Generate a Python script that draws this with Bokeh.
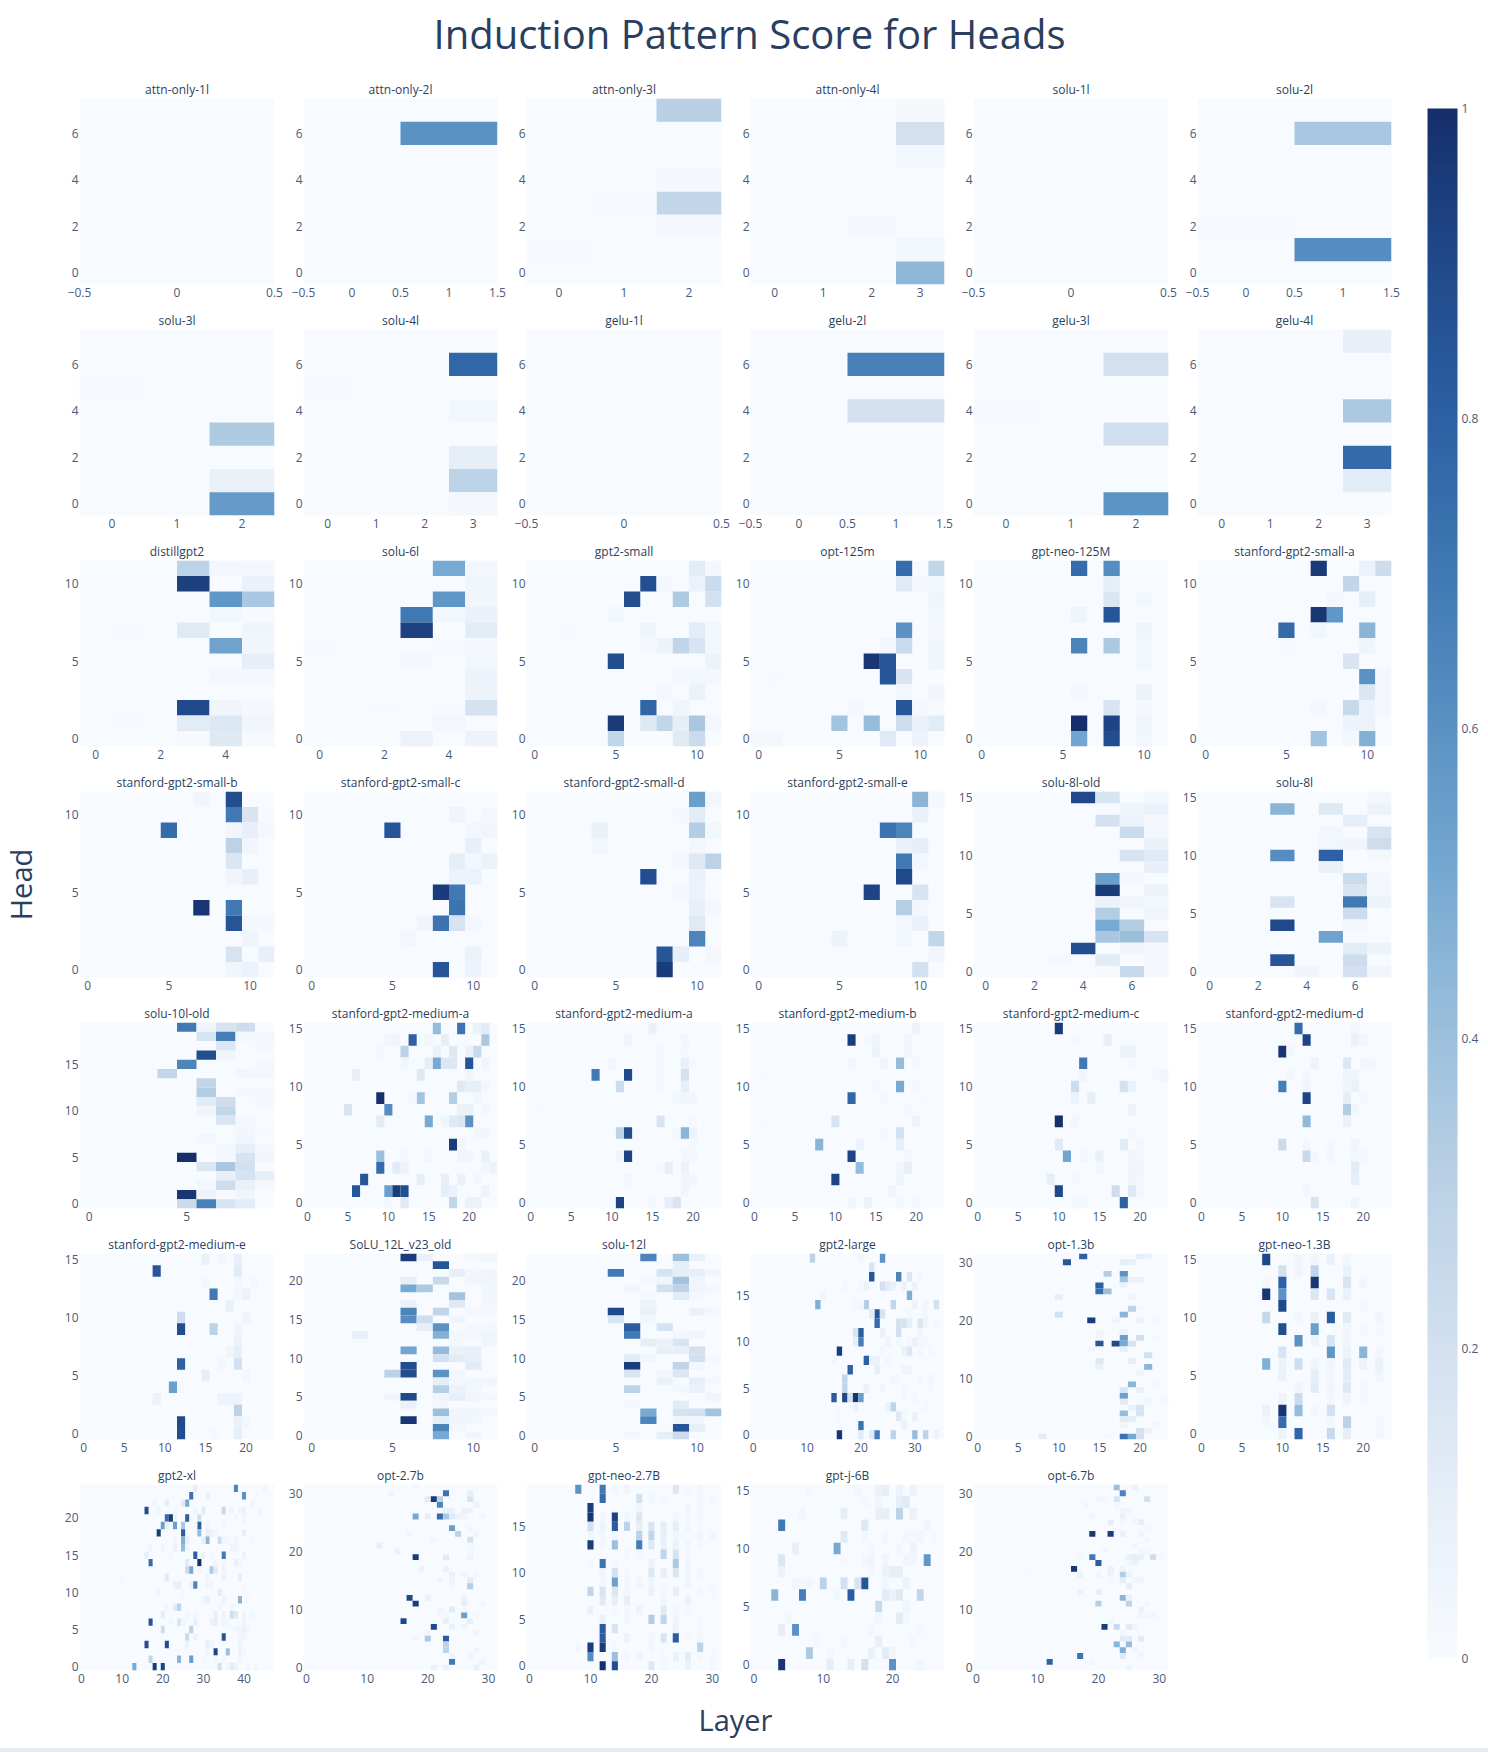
from bokeh.plotting import figure
from bokeh.layouts import column, row
from bokeh.models import (Range1d, FixedTicker, LinearColorMapper, ColorBar, Label, Spacer,
                          ColumnDataSource)
from bokeh.embed import file_html
from bokeh.resources import INLINE
import math

# colour scale stops
stops = [(0, "#f7fbff"), (.1, "#e6eef7"), (.2, "#d2e0f0"), (.3, "#bcd2e6"), (.4, "#9cc0dc"), (.5, "#78aad2"),
         (.6, "#5b92c3"), (.7, "#4079b4"), (.8, "#2d60a4"), (.9, "#204a8c"), (1, "#162f6b")]

attn_only_1l = []
attn_only_2l = [(1,6,.6)]
attn_only_3l = [(2,7,.31),(2,3,.27),(2,4,.02),(2,2,.02),(0,1,.01),(1,3,.01)]
attn_only_4l = [(3,6,.2),(3,0,.44),(3,1,.03),(3,5,.03),(3,7,.02),(2,2,.02)]
solu_1l = []
solu_2l = [(1,6,.36),(1,1,.62),(0,2,.01)]
solu_3l = [(2,3,.34),(2,1,.08),(2,0,.56),(0,5,.01)]
solu_4l = [(3,6,.77),(3,4,.03),(3,2,.1),(3,1,.3),(0,5,.01),(3,0,.02)]
gelu_1l = []
gelu_2l = [(1,6,.67),(1,4,.2)]
gelu_3l = [(2,6,.2),(2,3,.21),(2,0,.59),(0,4,.01)]
gelu_4l = [(3,7,.09),(3,4,.35),(3,2,.76),(3,1,.12)]
distillgpt2 = [(3,11,.3),(4,11,.03),(5,11,.02),(3,10,.94),(5,10,.08),(4,9,.58),(5,9,.36),(4,8,.03),(5,8,.01),(3,7,.13),(5,7,.05),(1,7,.01),(4,6,.53),(5,6,.04),(5,5,.1),(4,4,.02),(5,4,.02),(3,2,.9),(4,2,.05),(5,2,.02),(3,1,.12),(4,1,.15),(5,1,.04),(1,1,.01),(4,0,.14),(3,0,.01),(5,0,.01)]
solu_6l = [(4,11,.5),(5,11,.03),(5,10,.04),(4,9,.58),(5,9,.04),(3,8,.7),(4,8,.03),(5,8,.08),(3,7,.93),(5,7,.12),(0,6,.01),(4,6,.01),(5,6,.02),(3,5,.02),(5,5,.03),(5,4,.06),(5,3,.06),(5,2,.19),(4,2,.01),(2,2,.01),(4,1,.03),(3,0,.07),(5,0,.06)]
gpt2_small = [(10,11,.12),(11,11,.02),(7,10,.87),(8,10,.03),(10,10,.07),(11,10,.24),(6,9,.88),(9,9,.34),(11,9,.2),(5,8,.03),(7,7,.05),(10,7,.12),(11,7,.03),(8,6,.06),(9,6,.28),(10,6,.17),(7,6,.02),(11,6,.03),(5,5,.88),(11,5,.06),(9,4,.03),(10,4,.03),(11,4,.02),(10,3,.07),(8,3,.02),(7,2,.78),(9,2,.04),(5,1,.96),(7,1,.14),(8,1,.27),(9,1,.1),(10,1,.36),(11,1,.03),(5,0,.27),(9,0,.13),(10,0,.24),(2,7,.01)]
opt_125m = [(9,11,.75),(11,11,.27),(9,10,.13),(10,10,.02),(11,10,.03),(11,9,.05),(11,8,.03),(9,7,.6),(11,7,.02),(9,6,.24),(8,6,.03),(11,6,.04),(7,5,.97),(8,5,.85),(11,5,.04),(8,4,.85),(9,4,.17),(1,4,.01),(9,3,.03),(11,3,.04),(9,2,.85),(6,2,.02),(10,2,.02),(11,2,.01),(5,1,.38),(7,1,.42),(9,1,.22),(10,1,.08),(11,1,.12),(8,0,.13),(10,0,.06),(0,0,.02),(1,0,.02)]
gpt_neo_125m = [(6,11,.75),(8,11,.62),(8,10,.1),(8,9,.16),(10,9,.03),(6,8,.05),(8,8,.85),(10,7,.05),(6,6,.66),(8,6,.35),(10,6,.03),(10,5,.03),(6,3,.03),(10,3,.06),(8,2,.17),(10,2,.02),(6,1,1.0),(8,1,.92),(10,1,.04),(6,0,.52),(8,0,.88),(10,0,.03)]
small_a = [(7,11,.96),(10,11,.07),(11,11,.23),(9,10,.27),(10,9,.1),(8,9,.02),(7,8,.97),(8,8,.58),(5,7,.76),(10,7,.45),(7,7,.03),(10,6,.05),(5,6,.01),(9,5,.17),(10,4,.6),(11,4,.02),(10,3,.16),(11,3,.02),(7,2,.03),(9,2,.25),(10,2,.07),(11,2,.03),(9,1,.06),(10,1,.07),(7,0,.38),(9,0,.03),(10,0,.47)]
small_b = [(7,11,.04),(9,11,.88),(9,10,.7),(10,10,.17),(11,10,.01),(5,9,.75),(9,9,.04),(10,9,.09),(11,9,.02),(9,8,.3),(10,8,.04),(9,7,.16),(9,6,.05),(10,6,.09),(7,4,.97),(9,4,.7),(9,3,.85),(10,3,.03),(11,3,.02),(10,2,.05),(9,1,.18),(11,1,.09),(9,0,.04),(10,0,.07)]
small_c = [(9,10,.05),(11,10,.02),(5,9,.85),(10,9,.03),(11,9,.04),(10,8,.09),(9,7,.1),(10,7,.03),(11,7,.07),(9,6,.06),(10,6,.07),(8,5,.95),(9,5,.7),(9,4,.72),(7,3,.05),(8,3,.72),(9,3,.18),(10,3,.03),(6,2,.03),(10,1,.07),(8,0,.85),(10,0,.06)]
small_d = [(10,11,.55),(11,11,.03),(10,10,.12),(9,10,.02),(4,9,.08),(10,9,.33),(11,9,.03),(4,8,.03),(10,8,.03),(9,7,.02),(10,7,.14),(11,7,.3),(7,6,.88),(10,6,.08),(9,5,.02),(10,5,.07),(10,4,.09),(11,4,.02),(10,3,.13),(10,2,.65),(8,1,.85),(9,1,.1),(11,1,.02),(8,0,.95)]
small_e = [(10,11,.45),(11,11,.02),(10,10,.08),(8,9,.72),(9,9,.65),(9,8,.08),(10,8,.1),(9,7,.7),(10,7,.03),(9,6,.9),(7,5,.92),(10,5,.17),(9,4,.32),(10,4,.03),(9,3,.03),(10,3,.08),(5,2,.06),(9,2,.03),(11,2,.27),(11,1,.04),(10,0,.2)]
solu_8l_old = [(4,15,.9),(5,15,.17),(7,15,.03),(6,14,.05),(7,14,.08),(5,13,.2),(6,13,.07),(7,13,.02),(6,12,.24),(7,12,.03),(7,11,.08),(6,10,.18),(7,10,.13),(7,9,.09),(5,8,.55),(6,8,.02),(5,7,.95),(7,7,.07),(5,6,.07),(6,6,.04),(7,6,.03),(5,5,.33),(7,5,.05),(5,4,.5),(6,4,.33),(5,3,.36),(6,3,.4),(7,3,.17),(4,2,.88),(6,2,.05),(7,2,.02),(3,1,.02),(5,1,.12),(7,1,.02),(6,0,.25),(7,0,.02),(5,0,.01)]
solu_8l = [(7,15,.02),(3,14,.45),(5,14,.14),(7,14,.06),(6,13,.1),(5,12,.03),(7,12,.17),(5,11,.03),(6,11,.05),(7,11,.22),(3,10,.62),(5,10,.8),(7,10,.02),(5,9,.08),(6,8,.24),(7,8,.02),(6,7,.17),(7,7,.02),(3,6,.17),(6,6,.7),(7,6,.06),(6,5,.23),(3,4,.9),(6,4,.03),(5,3,.53),(6,2,.12),(7,2,.06),(3,1,.85),(6,1,.22),(4,0,.05),(6,0,.2),(7,0,.04)]
solu_10l_old = [(5,19,.7),(6,19,.05),(7,19,.17),(8,19,.22),(6,18,.18),(7,18,.68),(8,18,.03),(9,18,.03),(7,17,.15),(9,17,.02),(6,16,.88),(7,16,.04),(5,15,.65),(9,15,.03),(4,14,.27),(8,14,.04),(9,14,.03),(6,13,.28),(6,12,.33),(8,12,.02),(9,12,.02),(6,11,.12),(7,11,.22),(9,11,.02),(6,10,.05),(7,10,.27),(7,9,.17),(8,9,.02),(8,8,.03),(9,8,.01),(6,7,.03),(8,7,.04),(7,6,.03),(8,6,.1),(9,6,.02),(5,5,1.0),(8,5,.18),(9,5,.05),(7,5,.02),(6,4,.15),(7,4,.36),(8,4,.2),(7,3,.09),(8,3,.19),(9,3,.1),(6,2,.03),(7,2,.22),(8,2,.08),(9,2,.02),(5,1,.97),(6,1,.06),(8,1,.04),(5,0,.24),(6,0,.67),(7,0,.18),(8,0,.12)]
medium_a1 = [(16,15,.42),(19,15,.72),(21,15,.07),(22,15,.12),(10,14,.03),(11,14,.05),(13,14,.8),(15,14,.04),(17,14,.1),(22,14,.36),(9,13,.02),(12,13,.3),(16,13,.08),(18,13,.14),(20,13,.08),(21,13,.25),(12,12,.03),(15,12,.1),(16,12,.5),(17,12,.15),(18,12,.15),(20,12,.85),(22,12,.04),(6,11,.09),(14,11,.13),(20,11,.05),(19,10,.14),(20,10,.1),(21,10,.1),(22,10,.03),(9,9,1.0),(14,9,.38),(18,9,.33),(13,9,.02),(21,9,.03),(5,8,.17),(10,8,.62),(19,8,.07),(20,8,.08),(22,8,.03),(9,7,.12),(15,7,.5),(17,7,.05),(18,7,.13),(19,7,.15),(20,7,.6),(21,6,.02),(22,6,.04),(18,5,.95),(19,5,.05),(9,4,.4),(12,4,.02),(15,4,.03),(19,4,.05),(20,4,.04),(22,4,.08),(9,3,.75),(11,3,.12),(12,3,.07),(22,3,.03),(23,3,.07),(7,2,.85),(14,2,.1),(17,2,.09),(19,2,.08),(21,2,.02),(6,1,.85),(10,1,.55),(11,1,.95),(12,1,.88),(17,1,.1),(18,1,.08),(22,1,.06),(10,0,.03),(12,0,.14),(18,0,.27),(20,0,.07),(21,0,.07)]
medium_a2 = [(15,15,.08),(12,14,.05),(19,14,.03),(16,13,.02),(19,13,.02),(10,12,.04),(16,12,.03),(19,12,.09),(20,12,.02),(8,11,.7),(12,11,.9),(16,11,.03),(19,11,.2),(11,10,.23),(19,10,.09),(16,10,.02),(18,9,.03),(19,9,.04),(20,9,.03),(1,8,.01),(16,7,.17),(20,7,.02),(11,6,.3),(12,6,.88),(18,6,.03),(19,6,.45),(20,6,.06),(20,5,.02),(11,4,.05),(12,4,.92),(19,4,.03),(20,4,.03),(17,3,.1),(19,3,.06),(16,3,.02),(12,2,.03),(19,2,.04),(20,2,.03),(19,1,.04),(11,0,.92),(15,0,.03),(17,0,.1),(18,0,.17)]
medium_b = [(20,15,.06),(12,14,.95),(15,14,.05),(14,14,.02),(19,14,.03),(15,13,.06),(19,13,.04),(12,12,.03),(16,12,.04),(18,12,.42),(20,12,.02),(1,11,.01),(15,10,.03),(18,10,.5),(20,10,.02),(12,9,.78),(16,9,.03),(21,9,.01),(19,8,.03),(10,7,.17),(20,7,.06),(1,7,.01),(18,6,.2),(16,6,.02),(8,5,.45),(13,5,.07),(18,5,.1),(12,4,.92),(19,4,.03),(13,3,.42),(18,3,.03),(19,3,.09),(10,2,.92),(18,2,.05),(17,1,.05),(12,0,.04),(14,0,.07),(18,0,.03),(20,0,.03)]
medium_c = [(10,15,.95),(16,14,.09),(12,14,.02),(18,13,.07),(19,13,.07),(13,12,.7),(19,12,.02),(13,11,.05),(22,11,.03),(23,11,.05),(12,10,.23),(18,10,.2),(19,10,.08),(12,9,.06),(14,9,.1),(19,8,.07),(10,7,1.0),(12,7,.04),(19,6,.03),(10,5,.13),(18,5,.12),(20,5,.03),(11,4,.52),(15,4,.08),(13,4,.03),(19,4,.04),(20,4,.03),(15,3,.03),(19,3,.05),(20,3,.04),(9,2,.1),(19,2,.05),(20,2,.03),(12,2,.02),(10,1,.9),(17,1,.22),(19,1,.14),(20,1,.03),(18,0,.8),(13,0,.03),(12,0,.02)]
medium_d = [(12,15,.75),(19,15,.03),(13,14,.92),(19,14,.08),(20,14,.03),(10,13,.97),(11,13,.02),(14,12,.06),(18,12,.15),(20,12,.03),(21,12,.03),(11,11,.02),(13,11,.02),(18,11,.05),(19,11,.05),(10,10,.68),(13,10,.05),(18,10,.05),(19,10,.08),(13,9,.92),(18,9,.1),(20,9,.03),(18,8,.33),(19,8,.04),(13,7,.43),(18,7,.08),(10,5,.24),(13,5,.03),(19,5,.05),(16,5,.02),(13,4,.25),(14,4,.02),(16,4,.02),(19,4,.03),(20,4,.02),(19,3,.12),(19,2,.1),(13,1,.03),(14,0,.17),(19,0,.05)]
medium_e = [(15,15,.08),(17,15,.03),(19,15,.09),(9,14,.85),(19,14,.12),(15,13,.03),(19,13,.02),(21,13,.02),(16,12,.7),(19,12,.03),(20,12,.07),(18,11,.08),(12,10,.22),(20,10,.05),(12,9,.88),(16,9,.3),(19,9,.05),(19,8,.07),(18,7,.05),(19,7,.1),(12,6,.8),(17,6,.03),(19,6,.2),(15,5,.1),(20,5,.03),(11,4,.55),(12,4,.02),(9,3,.07),(17,3,.06),(18,3,.06),(19,3,.06),(19,2,.3),(12,1,.9),(19,1,.08),(20,1,.03),(12,0,.88),(19,0,.1),(16,0,.02)]
solu_12l_v23_old = [(6,23,.95),(7,23,.08),(10,23,.02),(11,23,.04),(8,22,.85),(9,21,.1),(10,21,.03),(11,21,.05),(6,20,.1),(8,20,.25),(10,20,.04),(11,20,.05),(6,19,.5),(7,19,.35),(11,19,.04),(9,18,.38),(11,18,.04),(6,17,.08),(9,17,.14),(11,17,.03),(6,16,.65),(8,16,.28),(10,16,.02),(11,16,.02),(6,15,.62),(7,15,.22),(9,15,.05),(7,14,.1),(8,14,.6),(10,14,.02),(11,14,.03),(3,13,.09),(8,13,.47),(9,13,.03),(10,13,.03),(11,13,.05),(11,12,.04),(9,12,.02),(6,11,.52),(8,11,.42),(9,11,.08),(10,11,.1),(8,10,.2),(9,10,.12),(10,10,.09),(6,9,.88),(10,9,.12),(5,8,.3),(6,8,.88),(8,8,.6),(9,8,.03),(8,7,.1),(9,7,.03),(10,7,.03),(11,7,.04),(8,6,.32),(9,6,.07),(10,6,.03),(5,5,.04),(6,5,.9),(8,5,.05),(9,5,.1),(10,5,.05),(11,5,.03),(6,4,.08),(8,4,.03),(8,3,.4),(9,3,.05),(10,3,.05),(11,3,.03),(6,2,.97),(8,2,.1),(9,2,.05),(10,2,.03),(8,1,.65),(9,1,.03),(8,0,.5),(10,0,.04)]
solu_12l = [(7,23,.65),(9,23,.4),(10,23,.08),(9,22,.1),(5,21,.7),(8,21,.18),(9,21,.1),(10,21,.1),(11,21,.04),(7,20,.03),(8,20,.05),(9,20,.38),(10,20,.05),(6,19,.04),(8,19,.2),(9,19,.3),(10,19,.05),(11,19,.03),(7,18,.02),(9,18,.12),(10,18,.02),(7,17,.06),(5,16,.9),(7,16,.08),(10,16,.08),(11,16,.03),(5,15,.17),(7,15,.03),(6,14,.82),(8,14,.18),(6,13,.7),(9,13,.03),(10,13,.05),(7,12,.1),(8,12,.07),(9,12,.17),(8,11,.09),(9,11,.09),(10,11,.2),(6,10,.12),(7,10,.04),(10,10,.2),(11,10,.02),(6,9,.95),(9,9,.28),(10,9,.03),(6,8,.17),(8,8,.03),(9,8,.15),(8,7,.07),(10,7,.1),(11,7,.02),(6,6,.3),(9,6,.03),(10,6,.07),(11,5,.05),(6,4,.03),(9,4,.12),(7,3,.5),(9,3,.18),(10,3,.2),(11,3,.38),(7,2,.65),(9,2,.05),(10,2,.03),(9,1,.85),(10,1,.1),(8,1,.01),(8,0,.1),(9,0,.23),(6,0,.02)]
gpt2_large = [(11,19,.3),(20,19,.05),(24,19,.6),(22,18,.17),(22,17,.85),(27,17,.65),(29,17,.15),(31,17,.03),(17,16,.03),(21,16,.07),(20,16,.03),(24,16,.2),(25,16,.12),(26,16,.08),(28,16,.07),(30,16,.07),(13,15,.04),(29,15,.48),(12,14,.48),(21,14,.33),(26,14,.27),(30,14,.07),(34,14,.2),(20,14,.03),(19,14,.02),(32,14,.03),(23,13,.85),(22,13,.12),(24,13,.18),(29,13,.03),(32,13,.03),(23,12,.75),(27,12,.2),(28,12,.18),(29,12,.1),(31,12,.15),(32,12,.05),(34,12,.03),(19,11,.17),(20,11,.82),(24,11,.08),(27,11,.2),(31,11,.05),(19,10,.1),(20,10,.68),(25,10,.05),(27,10,.03),(29,10,.03),(30,10,.08),(31,10,.03),(32,10,.03),(16,9,.95),(24,9,.03),(28,9,.07),(29,9,.15),(31,9,.03),(33,9,.02),(21,8,.8),(22,8,.08),(23,8,.08),(25,8,.03),(15,8,.03),(18,7,.8),(23,7,.1),(28,7,.05),(29,7,.05),(17,6,.27),(26,6,.03),(31,6,.03),(33,6,.03),(27,6,.02),(17,5,.28),(21,5,.08),(24,5,.05),(28,5,.02),(33,5,.02),(15,4,.82),(17,4,.9),(18,4,.2),(19,4,.98),(20,4,.55),(28,4,.03),(30,4,.03),(19,3,.08),(25,3,.07),(26,3,.28),(32,3,.02),(27,2,.14),(28,2,.03),(30,2,.08),(16,2,.02),(20,1,.72),(28,1,.07),(16,0,.98),(20,0,.12),(22,0,.13),(23,0,.68),(26,0,.3),(30,0,.42),(32,0,.3),(34,0,.06)]
opt_1_3b = [(11,30,.85),(13,31,.8),(18,30,.1),(19,30,.08),(20,31,.1),(21,31,.07),(16,28,.33),(18,28,.6),(18,27,.38),(19,27,.08),(20,27,.08),(18,26,.06),(15,26,.8),(15,25,.75),(16,25,.4),(10,24,.1),(19,24,.04),(19,22,.3),(18,21,.45),(10,21,.2),(20,22,.02),(14,20,.95),(17,20,.05),(20,20,.07),(22,20,.02),(15,18,.04),(18,18,.06),(18,17,.55),(20,17,.2),(15,17,.04),(22,17,.02),(15,16,.85),(17,16,.9),(18,16,.5),(19,16,.18),(18,15,.09),(14,15,.03),(15,15,.02),(21,14,.2),(15,13,.15),(19,13,.1),(10,13,.01),(15,12,.08),(21,12,.45),(20,11,.05),(19,9,.45),(22,9,.02),(18,8,.17),(20,8,.08),(18,7,.55),(21,6,.04),(23,6,.03),(18,6,.12),(18,4,.42),(19,5,.08),(20,5,.17),(20,4,.17),(18,3,.12),(19,3,.1),(18,2,.04),(22,2,.03),(20,1,.2),(21,1,.07),(8,0,.12),(18,0,.72),(19,0,.5),(20,0,.2),(16,0,.02)]
gpt_neo_1_3b = [(8,15,.9),(12,15,.04),(14,15,.04),(16,15,.08),(18,15,.03),(10,14,.2),(12,14,.05),(14,14,.27),(18,14,.08),(10,13,.8),(14,13,.97),(18,13,.17),(20,13,.04),(8,13,.02),(8,12,.97),(10,12,.6),(14,12,.16),(16,12,.17),(18,12,.08),(10,11,.9),(20,11,.03),(8,10,.26),(12,10,.03),(14,10,.08),(16,10,.82),(18,10,.13),(22,10,.05),(10,9,.88),(14,9,.55),(18,9,.05),(20,9,.03),(22,9,.02),(12,8,.6),(14,8,.06),(16,8,.17),(18,8,.04),(10,7,.17),(16,7,.58),(18,7,.06),(20,7,.45),(22,7,.03),(8,6,.48),(10,6,.06),(12,6,.22),(14,6,.05),(16,6,.04),(18,6,.13),(20,6,.06),(22,6,.08),(10,5,.08),(14,5,.1),(16,5,.03),(18,5,.12),(22,5,.05),(12,4,.04),(14,4,.12),(16,4,.04),(18,4,.14),(20,4,.03),(10,3,.06),(12,3,.24),(18,3,.05),(16,3,.02),(20,3,.03),(8,2,.07),(10,2,.98),(12,2,.42),(16,2,.2),(14,2,.02),(8,1,.03),(10,1,.75),(16,1,.03),(18,1,.3),(22,1,.02),(10,0,.06),(12,0,.78),(16,0,.25),(18,0,.1),(22,0,.03)]
gpt2_xl = [(28,24,.1),(38,24,.65),(45,24,.04),(27,23,.72),(31,23,.07),(40,23,.6),(43,23,.03),(26,22,.5),(21,22,.1),(18,22,.05),(42,22,.05),(25,22,.12),(16,21,.88),(19,21,.04),(35,21,.25),(30,21,.12),(37,21,.05),(28,21,.05),(39,21,.05),(40,21,.07),(44,21,.05),(23,21,.03),(21,20,.75),(22,20,.95),(23,20,.07),(26,20,.8),(29,20,.2),(38,20,.03),(40,20,.05),(20,19,.55),(21,19,.1),(23,19,.55),(25,19,.35),(29,19,.82),(28,19,.04),(31,19,.05),(35,19,.03),(19,18,.95),(25,18,.82),(29,18,.42),(31,18,.1),(32,18,.08),(40,18,.1),(33,18,.03),(25,17,.48),(26,17,.1),(31,17,.45),(30,17,.08),(34,17,.22),(35,17,.05),(36,17,.03),(23,17,.04),(38,17,.05),(42,17,.03),(25,16,.42),(17,16,.05),(20,16,.04),(23,16,.08),(26,16,.03),(37,16,.05),(38,16,.05),(16,15,.1),(28,15,.8),(30,15,.07),(35,15,.7),(40,15,.06),(22,15,.02),(32,15,.02),(17,14,.75),(26,14,.12),(29,14,1.0),(33,14,.05),(38,14,.08),(39,14,.03),(35,14,.03),(26,13,.22),(27,13,.5),(32,13,.35),(33,13,.13),(29,13,.03),(35,13,.05),(21,12,.12),(31,12,.05),(35,12,.07),(39,12,.1),(10,12,.02),(23,11,.08),(24,11,.09),(27,11,.08),(28,11,.65),(31,11,.05),(32,11,.04),(34,10,.12),(35,10,.02),(19,10,.03),(25,10,.02),(40,10,.02),(30,9,.03),(31,9,.09),(35,9,.08),(39,9,.45),(41,9,.03),(23,8,.12),(24,8,.3),(21,8,.03),(34,8,.03),(37,8,.04),(20,7,.1),(33,7,.1),(35,7,.06),(37,7,.22),(38,7,.14),(28,7,.03),(40,7,.05),(42,7,.03),(26,7,.03),(17,6,.85),(22,6,.03),(24,6,.15),(25,6,.04),(28,6,.08),(32,6,.07),(33,6,.1),(35,6,.05),(36,6,.03),(40,6,.07),(20,5,.22),(27,5,.3),(38,5,.03),(39,5,.05),(40,5,.07),(41,5,.03),(26,4,.25),(28,4,.06),(35,4,.85),(40,4,.05),(39,4,.04),(16,3,.88),(21,3,.88),(26,3,.07),(31,3,.1),(32,3,.04),(39,3,.06),(33,2,.92),(36,2,.4),(31,2,.05),(39,2,.07),(40,2,.03),(17,1,.28),(24,1,.45),(27,1,.55),(30,1,.03),(33,1,.03),(35,1,.03),(39,1,.05),(13,0,.5),(18,0,.95),(20,0,.92),(34,0,.2),(37,0,.12),(36,0,.03),(38,0,.05),(43,0,.05),(41,0,.03)]
opt_2_7b = [(14,30,.05),(23,30,.72),(18,31,.03),(20,29,.12),(21,29,.95),(22,29,.3),(27,29,.17),(27,30,.1),(22,28,.65),(28,28,.07),(23,27,.08),(24,27,.08),(26,27,.08),(27,27,.06),(18,26,.5),(20,26,.1),(22,26,.75),(23,26,.35),(24,26,.12),(25,26,.07),(26,26,.05),(29,26,.03),(24,24,.55),(27,24,.03),(25,23,.3),(17,23,.05),(28,23,.05),(21,22,.04),(27,22,.2),(12,21,.1),(27,21,.03),(15,20,.07),(27,20,.03),(18,19,.95),(23,19,.12),(27,19,.06),(19,17,.06),(23,17,.08),(24,16,.07),(26,16,.05),(28,16,.03),(22,15,.05),(24,15,.06),(27,15,.12),(24,14,.03),(27,14,.33),(17,12,.9),(20,12,.07),(26,12,.07),(18,11,.95),(26,11,.1),(29,11,.03),(22,10,.05),(24,10,.12),(26,10,.03),(26,9,.55),(22,9,.03),(23,9,.02),(28,9,.02),(16,8,.9),(23,8,.1),(27,8,.1),(21,7,.9),(24,7,.07),(26,7,.05),(20,6,.04),(28,6,.05),(20,5,.35),(23,5,.82),(18,5,.03),(23,4,.3),(23,3,.3),(28,3,.05),(24,2,.06),(27,2,.05),(24,1,.7),(29,1,.05),(21,0,.08),(23,0,.07),(28,0,.08)]
gpt_neo_2_7b = [(8,19,.6),(12,19,.7),(14,19,.03),(16,19,.05),(24,19,.15),(26,19,.02),(28,19,.04),(12,18,.75),(18,18,.2),(20,18,.03),(22,18,.02),(28,18,.04),(30,18,.03),(10,17,.95),(18,17,.05),(26,17,.05),(28,17,.03),(10,16,.97),(12,16,.04),(14,16,.93),(16,16,.03),(18,16,.15),(24,16,.04),(26,16,.03),(28,16,.03),(10,15,.2),(12,15,.06),(14,15,.82),(16,15,.3),(18,15,.1),(20,15,.17),(22,15,.1),(24,15,.1),(26,15,.03),(28,15,.02),(10,14,.04),(12,14,.03),(14,14,.04),(18,14,.3),(20,14,.27),(22,14,.09),(24,14,.04),(28,14,.04),(30,14,.03),(10,13,.95),(12,13,.02),(14,13,.4),(18,13,.68),(20,13,.15),(22,13,.07),(24,13,.06),(26,13,.03),(28,13,.02),(16,12,.02),(18,12,.02),(22,12,.28),(24,12,.18),(26,12,.03),(10,11,.02),(12,11,.72),(14,11,.02),(20,11,.07),(24,11,.35),(26,11,.05),(12,10,.05),(14,10,.2),(16,10,.02),(20,10,.15),(22,10,.1),(24,10,.16),(26,10,.04),(28,10,.03),(12,9,.02),(14,9,.55),(16,9,.04),(18,9,.05),(20,9,.05),(26,9,.04),(10,8,.27),(12,8,.17),(14,8,.16),(16,8,.03),(20,8,.07),(24,8,.1),(22,8,.02),(28,8,.02),(30,8,.02),(12,7,.13),(14,7,.1),(16,7,.1),(22,7,.05),(26,7,.07),(10,6,.07),(14,6,.02),(16,6,.02),(18,6,.06),(22,6,.13),(24,6,.03),(26,6,.02),(12,5,.08),(16,5,.03),(20,5,.33),(22,5,.28),(24,5,.05),(28,5,.02),(12,4,.82),(14,4,.17),(24,4,.07),(28,4,.02),(12,3,.82),(16,3,.06),(20,3,.03),(22,3,.17),(24,3,.82),(26,3,.02),(28,3,.03),(8,2,.03),(10,2,.95),(12,2,.95),(14,2,.02),(20,2,.03),(28,2,.3),(10,1,.62),(14,1,.4),(16,1,.03),(18,1,.05),(24,1,.08),(26,1,.1),(22,1,.02),(28,1,.02),(30,1,.02),(12,0,1.0),(14,0,.88),(20,0,.14),(26,0,.07),(22,0,.02),(30,0,.03)]
gpt_j_6b = [(18,15,.08),(19,15,.1),(21,15,.06),(23,15,.07),(15,15,.03),(8,15,.02),(18,14,.05),(21,14,.1),(22,14,.13),(16,14,.02),(7,13,.04),(13,13,.1),(18,13,.09),(19,13,.09),(21,13,.3),(23,13,.08),(4,12,.7),(16,12,.14),(25,12,.05),(13,11,.13),(22,11,.04),(16,11,.03),(23,11,.02),(24,11,.04),(26,11,.02),(19,11,.03),(6,10,.09),(12,10,.5),(23,10,.06),(17,10,.03),(21,10,.03),(4,9,.16),(16,9,.03),(17,9,.05),(19,9,.04),(22,9,.04),(23,9,.04),(25,9,.58),(13,9,.02),(4,8,.07),(17,8,.03),(19,8,.07),(20,8,.09),(21,8,.09),(6,7,.04),(8,7,.04),(10,7,.3),(13,7,.2),(15,7,.17),(16,7,.85),(19,7,.03),(22,7,.06),(7,7,.02),(3,6,.45),(7,6,.68),(14,6,.82),(19,6,.12),(20,6,.07),(21,6,.13),(24,6,.27),(12,6,.03),(18,5,.25),(22,5,.05),(5,4,.02),(18,4,.03),(21,4,.12),(22,4,.02),(4,3,.1),(6,3,.6),(17,3,.03),(24,3,.02),(18,2,.09),(9,2,.02),(13,2,.03),(23,2,.03),(8,1,.35),(17,1,.08),(19,1,.12),(20,1,.05),(11,1,.02),(4,0,.97),(11,0,.1),(14,0,.1),(16,0,.2),(20,0,.6),(24,0,.04)]
opt_6_7b = [(23,31,.4),(26,31,.07),(24,30,.65),(20,29,.04),(21,29,.04),(23,29,.17),(28,29,.2),(18,28,.03),(23,28,.05),(24,27,.05),(25,27,.04),(19,26,.03),(24,26,.08),(22,25,.1),(24,25,.02),(27,25,.1),(26,25,.03),(28,24,.03),(19,23,.97),(22,23,.95),(24,23,.08),(27,23,.05),(28,22,.03),(26,21,.03),(21,20,.03),(27,20,.04),(28,20,.03),(17,19,.03),(19,19,.7),(25,19,.07),(26,19,.1),(27,19,.07),(29,19,.22),(30,19,.02),(20,18,.82),(25,18,.03),(26,18,.07),(16,17,.97),(22,17,.07),(24,17,.05),(9,17,.02),(17,16,.07),(20,16,.05),(22,16,.06),(24,16,.33),(25,16,.07),(22,15,.03),(24,15,.1),(26,15,.04),(27,15,.05),(25,14,.1),(17,13,.08),(20,13,.1),(24,12,.45),(25,12,.08),(20,11,.32),(25,11,.3),(28,11,.03),(27,10,.08),(27,9,.04),(28,9,.03),(29,9,.03),(22,8,.04),(21,7,.95),(23,7,.25),(25,7,.12),(26,7,.05),(24,6,.03),(24,5,.12),(25,5,.12),(27,5,.12),(23,4,.45),(25,4,.42),(24,3,.48),(26,3,.05),(17,2,.72),(24,2,.12),(27,2,.04),(12,1,.8),(19,1,.03),(25,0,.05)]

panels = [
 [("attn-only-1l",1,8,attn_only_1l),("attn-only-2l",2,8,attn_only_2l),("attn-only-3l",3,8,attn_only_3l),("attn-only-4l",4,8,attn_only_4l),("solu-1l",1,8,solu_1l),("solu-2l",2,8,solu_2l)],
 [("solu-3l",3,8,solu_3l),("solu-4l",4,8,solu_4l),("gelu-1l",1,8,gelu_1l),("gelu-2l",2,8,gelu_2l),("gelu-3l",3,8,gelu_3l),("gelu-4l",4,8,gelu_4l)],
 [("distillgpt2",6,12,distillgpt2),("solu-6l",6,12,solu_6l),("gpt2-small",12,12,gpt2_small),("opt-125m",12,12,opt_125m),("gpt-neo-125M",12,12,gpt_neo_125m),("stanford-gpt2-small-a",12,12,small_a)],
 [("stanford-gpt2-small-b",12,12,small_b),("stanford-gpt2-small-c",12,12,small_c),("stanford-gpt2-small-d",12,12,small_d),("stanford-gpt2-small-e",12,12,small_e),("solu-8l-old",8,16,solu_8l_old),("solu-8l",8,16,solu_8l)],
 [("solu-10l-old",10,20,solu_10l_old),("stanford-gpt2-medium-a",24,16,medium_a1),("stanford-gpt2-medium-a",24,16,medium_a2),("stanford-gpt2-medium-b",24,16,medium_b),("stanford-gpt2-medium-c",24,16,medium_c),("stanford-gpt2-medium-d",24,16,medium_d)],
 [("stanford-gpt2-medium-e",24,16,medium_e),("SoLU_12L_v23_old",12,24,solu_12l_v23_old),("solu-12l",12,24,solu_12l),("gpt2-large",36,20,gpt2_large),("opt-1.3b",24,32,opt_1_3b),("gpt-neo-1.3B",24,16,gpt_neo_1_3b)],
 [("gpt2-xl",48,25,gpt2_xl),("opt-2.7b",32,32,opt_2_7b),("gpt-neo-2.7B",32,20,gpt_neo_2_7b),("gpt-j-6B",28,16,gpt_j_6b),("opt-6.7b",32,32,opt_6_7b)],
]
x_ticks = {1:[-.5,0,.5],2:[-.5,0,.5,1,1.5],3:[0,1,2],4:[0,1,2,3],6:[0,2,4],8:[0,2,4,6],10:[0,5],12:[0,5,10],
           24:[0,5,10,15,20],28:[0,10,20],32:[0,10,20,30],36:[0,10,20,30],48:[0,10,20,30,40]}
y_ticks = {8:[0,2,4,6],12:[0,5,10],16:[0,5,10,15],20:[0,5,10,15],24:[0,5,10,15,20],25:[0,5,10,15,20],32:[0,10,20,30]}
colorbar_ticks = [0,.2,.4,.6,.8,1]
title_text = "Induction Pattern Score for Heads"
x_title = "Layer"
y_title = "Head"

FONT = "Open Sans"
INK = "#2a3f5f"
TICK = "#4a5a78"

def hex2rgb(h):
    return [int(h[i:i+2],16) for i in (1,3,5)]

palette = []
for i in range(256):
    t = i/255
    for (a,ca),(b,cb) in zip(stops, stops[1:]):
        if t <= b:
            f = (t-a)/(b-a)
            A,B = hex2rgb(ca),hex2rgb(cb)
            palette.append("#%02x%02x%02x" % tuple(round(A[k]+(B[k]-A[k])*f) for k in range(3)))
            break
mapper = LinearColorMapper(palette=palette, low=0, high=1)

def lbl(t):
    s = ("%g" % t)
    return s.replace("-", "\u2212")

def panel(name, nx, ny, cells, width):
    p = figure(width=width, height=231, output_backend="svg", toolbar_location=None, tools="",
               x_range=Range1d(-.5, nx-.5), y_range=Range1d(-.5, ny-.5),
               min_border_left=20, min_border_right=9, min_border_top=24, min_border_bottom=21,
               background_fill_color=palette[0], title=name)
    p.title.align = "center"
    p.title.text_font = FONT
    p.title.text_font_size = "12px"
    p.title.text_font_style = "normal"
    p.title.text_color = INK
    p.title.standoff = 2
    p.title.offset = 0
    p.outline_line_color = None
    p.grid.visible = False
    if cells:
        src = ColumnDataSource(dict(x=[c[0] for c in cells], y=[c[1] for c in cells], v=[c[2] for c in cells]))
        p.rect("x", "y", width=1, height=1, source=src, line_color=None,
               fill_color={"field":"v","transform":mapper})
    for ax, ticks in ((p.xaxis[0], x_ticks[nx]), (p.yaxis[0], y_ticks[ny])):
        ax.ticker = FixedTicker(ticks=ticks)
        ax.major_label_overrides = {t: lbl(t) for t in ticks}
        ax.axis_line_color = None
        ax.major_tick_line_color = None
        ax.minor_tick_line_color = None
        ax.major_tick_out = 0
        ax.major_tick_in = 0
        ax.minor_tick_out = 0
        ax.minor_tick_in = 0
        ax.major_label_text_font = FONT
        ax.major_label_text_font_size = "12px"
        ax.major_label_text_color = TICK
    p.xaxis[0].major_label_standoff = 3
    p.yaxis[0].major_label_standoff = 1
    return p

def blank(w, h):
    p = figure(width=w, height=h, output_backend="svg", toolbar_location=None, tools="",
               x_range=Range1d(0,w), y_range=Range1d(0,h),
               min_border_left=0, min_border_right=0, min_border_top=0, min_border_bottom=0)
    p.axis.visible = False
    p.grid.visible = False
    p.outline_line_color = None
    return p

widths = [224,223,224,223,224,223]
rows = []
for rp in panels:
    cells = [panel(n,nx,ny,c,widths[i]) for i,(n,nx,ny,c) in enumerate(rp)]
    if len(cells) < 6:
        cells.append(Spacer(width=widths[5], height=231))
    rows.append(row(*cells, spacing=0))
grid = column(*rows, spacing=0)

top = blank(1480, 74)
top.add_layout(Label(x=749, y=41, text=title_text, text_font=FONT, text_font_size="40px", text_color=INK,
                     text_align="center", text_baseline="middle"))

head = blank(59, 1617)
head.add_layout(Label(x=20, y=807, text=y_title, angle=math.pi/2, text_font=FONT, text_font_size="29px",
                      text_color=INK, text_align="center", text_baseline="middle"))

layer = blank(1480, 53)
layer.add_layout(Label(x=735, y=25, text=x_title, text_font=FONT, text_font_size="29px", text_color=INK,
                       text_align="center", text_baseline="middle"))

cbf = blank(80, 1617)
cb = ColorBar(color_mapper=mapper, ticker=FixedTicker(ticks=colorbar_ticks), width=30, height=1550,
              location=(27, 33), padding=0, margin=0,
              major_label_overrides={t: lbl(t) for t in colorbar_ticks},
              major_label_text_font=FONT, major_label_text_font_size="12px", major_label_text_color=TICK,
              major_tick_line_color=None, minor_tick_line_color=None, bar_line_color=None,
              border_line_color=None, background_fill_color=None, label_standoff=4)
cbf.add_layout(cb, "center")

root = column(top, row(head, grid, cbf, spacing=0), layer, spacing=0)
html = file_html(root, INLINE)
band = "<style>html,body{margin:0!important;padding:0!important}body::after{content:'';position:fixed;left:0;right:0;bottom:0;height:4px;background:#e8ebf2}</style>"
html = html.replace("</head>", band + "</head>", 1)
open("out.html", "w").write(html)
